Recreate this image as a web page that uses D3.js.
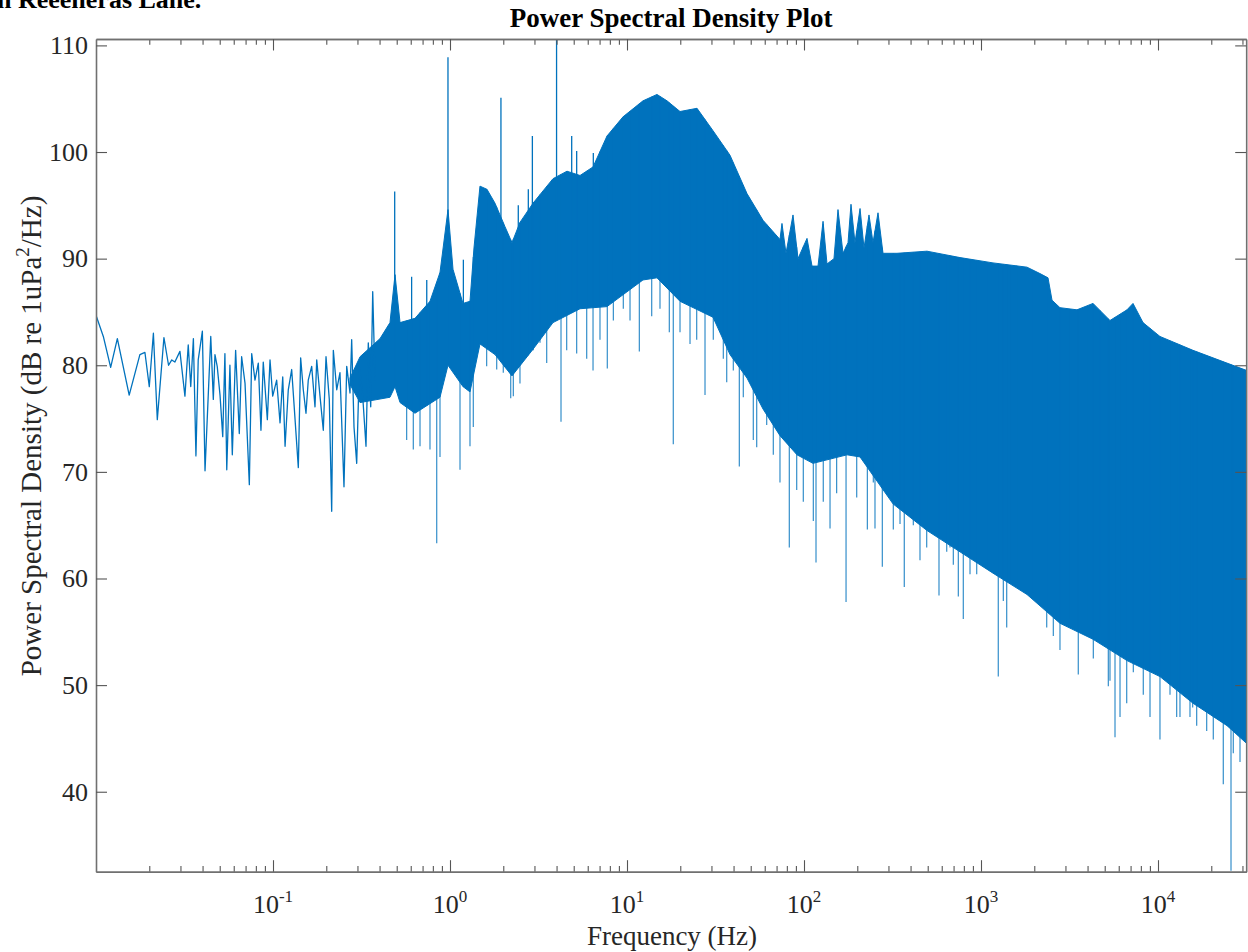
<!DOCTYPE html>
<html>
<head>
<meta charset="utf-8">
<script src="https://cdn.jsdelivr.net/npm/d3@7"></script>
<style>
  body { margin: 0; background: #fff; }
  svg { display: block; font-family: "Liberation Serif", "Times New Roman", serif; }
</style>
</head>
<body>
<svg id="chart"></svg>
<script>
// low-frequency part of the spectrum, drawn as a plain line (Hz, dB)
const lowFreq = [0.0100, 0.0110, 0.0121, 0.0132, 0.0154, 0.0177, 0.0189, 0.0200, 0.0211, 0.0222,
  0.0242, 0.0257, 0.0268, 0.0279, 0.0298, 0.0318, 0.0332, 0.0343, 0.0355, 0.0367,
  0.0378, 0.0399, 0.0413, 0.0445, 0.0460, 0.0470, 0.0484, 0.0502, 0.0520, 0.0535,
  0.0548, 0.0571, 0.0589, 0.0615, 0.0645, 0.0665, 0.0695, 0.0735, 0.0758, 0.0791,
  0.0826, 0.0855, 0.0881, 0.0929, 0.0962, 0.0996, 0.1049, 0.1096, 0.1135, 0.1170,
  0.1220, 0.1275, 0.1390, 0.1433, 0.1483, 0.1536, 0.1582, 0.1654, 0.1727, 0.1766,
  0.1843, 0.1924, 0.1993, 0.2080, 0.2146, 0.2192, 0.2291, 0.2390, 0.2518, 0.2609,
  0.2723, 0.2783, 0.2869, 0.2971, 0.3074, 0.3212, 0.3353, 0.3455, 0.3565, 0.3659,
  0.3770];
const lowPsd = [84.7, 82.7, 79.8, 82.5, 77.2, 81.0, 81.2, 78.0, 83.0, 74.9,
  82.6, 80.0, 80.5, 80.3, 81.3, 77.1, 81.9, 78.0, 82.5, 71.5,
  80.5, 83.2, 70.1, 82.7, 76.8, 81.0, 79.9, 77.2, 73.3, 81.1,
  70.2, 80.0, 71.6, 81.4, 73.6, 80.8, 78.3, 68.8, 81.1, 78.6,
  80.2, 73.9, 80.3, 74.9, 80.5, 77.1, 78.6, 74.6, 78.9, 72.4,
  77.7, 79.6, 70.4, 80.7, 77.7, 75.5, 78.6, 79.9, 76.1, 80.5,
  77.1, 73.9, 80.8, 76.8, 66.3, 81.4, 77.7, 79.3, 68.6, 79.9,
  77.4, 82.4, 74.2, 70.8, 79.9, 77.1, 72.4, 82.1, 76.1, 86.9,
  78.6];

// upper envelope of the dense part
const topFreq = [0.2723, 0.3103, 0.4025, 0.4581, 0.4891, 0.5221, 0.6340, 0.7708,
  0.8780, 0.9743, 1.040, 1.184, 1.297, 1.366, 1.477, 1.618, 1.796, 2.045,
  2.240, 2.485, 2.944, 3.818, 4.581, 5.427, 6.428, 7.709, 9.493, 12.31,
  14.77, 16.83, 19.93, 24.86, 30.62, 38.19, 47.64, 58.67, 73.16, 75.09,
  79.11, 86.67, 92.50, 104.0, 111.0, 120.0, 128.1, 134.9, 147.7, 155.6,
  166.1, 177.3, 184.3, 194.1, 207.3, 218.3, 232.9, 245.4, 261.9, 279.5,
  335.3, 495.4, 761.0, 1169, 1819, 2154, 2391, 2519, 2794, 3486,
  4294, 5355, 6682, 7225, 8228, 10260, 15770, 24540, 31830];
const topPsd = [78.8, 80.8, 82.5, 84.0, 88.5, 84.0, 84.4, 86.0,
  88.7, 94.6, 89.0, 85.8, 86.0, 91.0, 96.8, 96.5, 95.2, 93.0,
  91.5, 93.4, 95.2, 97.5, 98.2, 97.8, 98.6, 101.5, 103.3, 104.8,
  105.4, 104.8, 103.8, 104.1, 102.0, 99.7, 96.1, 93.6, 91.8, 93.3,
  90.5, 94.1, 90.0, 91.9, 89.3, 89.3, 93.5, 89.5, 90.0, 94.6,
  90.5, 91.5, 95.1, 91.5, 94.7, 91.0, 94.1, 91.5, 94.3, 90.5,
  90.5, 90.7, 90.1, 89.6, 89.2, 88.6, 88.2, 86.1, 85.4, 85.2,
  85.8, 84.2, 85.2, 85.8, 84.0, 82.7, 81.4, 80.2, 79.5];

// lower edge of the solid core
const coreFreq = [0.2723, 0.3103, 0.4581, 0.4891, 0.5221, 0.6340, 0.8780, 0.9743, 1.184,
  1.297, 1.477, 1.796, 2.240, 2.944, 3.818, 5.427, 7.709, 12.31, 14.77,
  19.93, 30.62, 38.19, 47.64, 58.67, 73.16, 91.3, 112.4, 175.0, 207.3,
  318.3, 495.4, 761.0, 1169, 1819, 2794, 4294, 6682, 10260, 15770,
  24540, 31830];
const corePsd = [78.2, 76.5, 77.0, 78.0, 76.5, 75.5, 77.0, 80.0, 78.0,
  77.5, 82.0, 81.0, 79.0, 81.5, 84.0, 85.3, 85.5, 88.0, 88.2,
  86.0, 84.5, 81.0, 78.8, 75.9, 73.4, 71.6, 70.8, 71.6, 71.4,
  67.0, 64.5, 62.5, 60.5, 58.5, 55.8, 54.3, 52.3, 50.8, 48.3,
  46.2, 44.5];

// single narrow peaks above the band
const peakFreq = [0.487, 0.607, 0.739, 0.974, 1.19, 1.94, 2.431, 2.770, 2.92, 4.00,
  4.87, 5.196, 6.452];
const peakPsd = [96.3, 88.3, 88.0, 108.9, 89.9, 105.1, 95.0, 96.5, 101.5, 112.0,
  101.5, 100.1, 99.9];

// single narrow dips below the band
const dipFreq = [0.5690, 0.6204, 0.6770, 0.7708, 0.8413, 0.8780, 1.139, 1.297, 1.354, 1.611,
  1.836, 2.000, 2.203, 2.279, 2.485, 2.955, 3.225, 3.518, 4.238, 4.563,
  5.196, 5.920, 6.428, 7.037, 7.739, 8.373, 9.531, 10.40, 11.74, 13.79,
  15.36, 17.34, 18.26, 19.93, 22.70, 24.76, 27.59, 30.73, 35.01, 36.59,
  39.87, 43.11, 45.40, 51.71, 54.05, 61.55, 67.08, 73.16, 82.60, 90.94,
  99.1, 112.9, 116.9, 128.5, 140.3, 152.9, 172.8, 198.5, 228.0, 246.4,
  251.8, 277.0, 319.6, 348.7, 368.6, 414.6, 452.2, 493.4, 579.0, 640.2,
  668.2, 697.6, 744.5, 794.3, 866.8, 945.7, 1077, 1252, 1337, 1397,
  1458, 1591, 1975, 2351, 2562, 2794, 3183, 3545, 3954, 4311,
  4702, 5240, 5355, 5716, 6101, 6656, 7254, 8258, 9013, 10260,
  11690, 12750, 13310, 15160, 15700, 16540, 18840, 20530, 23380, 25850,
  26630, 29060, 30330];
const dipPsd = [73.0, 72.1, 72.4, 72.1, 63.3, 71.4, 70.2, 72.4, 74.2, 79.9,
  79.6, 79.3, 76.9, 77.1, 78.3, 81.4, 82.1, 80.2, 74.7, 81.4,
  81.1, 80.6, 79.5, 82.4, 79.7, 84.2, 85.3, 84.2, 81.3, 84.6,
  85.3, 83.1, 72.6, 83.1, 82.0, 82.4, 77.2, 82.4, 80.6, 78.4,
  79.5, 70.5, 77.0, 73.0, 72.3, 74.4, 71.6, 69.0, 62.9, 68.3,
  67.2, 65.4, 61.5, 67.2, 64.7, 68.0, 57.8, 67.6, 64.6, 69.0,
  64.7, 61.1, 64.6, 65.1, 59.2, 65.0, 61.7, 62.9, 58.4, 62.5,
  62.9, 61.3, 58.3, 56.2, 60.4, 60.4, 60.9, 50.8, 57.9, 55.4,
  59.6, 59.6, 58.7, 55.4, 54.6, 53.3, 56.2, 51.0, 55.4, 52.5,
  55.4, 49.9, 50.4, 45.1, 47.0, 48.3, 51.2, 49.1, 47.0, 44.9,
  49.1, 47.0, 47.0, 47.0, 47.9, 46.2, 45.7, 44.9, 40.7, 32.6,
  43.6, 42.8, 44.9];

const yTicks = [40, 50, 60, 70, 80, 90, 100, 110];
const xDecades = [0.1, 1, 10, 100, 1000, 10000];

const width = 1248, height = 952;
const blue = '#0072bd';
const axisColor = '#707070';
const textColor = '#262626';

const svg = d3.select('#chart')
    .attr('width', width)
    .attr('height', height);

const x = d3.scaleLog()
    .domain([0.01, 31500])
    .range([96, 1246.2]);

const y = d3.scaleLinear()
    .domain([32.5, 110.6])
    .range([871.7, 39]);

const [x0, x1] = x.range();
const [yb, yt] = y.range();

svg.append('defs').append('clipPath')
    .attr('id', 'plotClip')
    .append('rect')
    .attr('x', x0).attr('y', yt)
    .attr('width', x1 - x0).attr('height', yb - yt);

const plot = svg.append('g').attr('clip-path', 'url(#plotClip)');

const line = d3.line().x(d => x(d[0])).y(d => y(d[1]));

// solid core of the spectrum
plot.append('path')
    .attr('d', line(d3.zip(topFreq, topPsd).concat(d3.zip(coreFreq, corePsd).reverse())) + 'Z')
    .attr('fill', blue)
    .attr('stroke', blue)
    .attr('stroke-width', 1);

// low-frequency trace
plot.append('path')
    .attr('d', line(d3.zip(lowFreq, lowPsd)))
    .attr('fill', 'none')
    .attr('stroke', blue)
    .attr('stroke-width', 1.3)
    .attr('stroke-linejoin', 'round');

const coreAt = d3.scaleLog().domain(coreFreq).range(corePsd).clamp(true);
const topAt = d3.scaleLog().domain(topFreq).range(topPsd).clamp(true);

plot.selectAll('.peak')
    .data(d3.zip(peakFreq, peakPsd))
    .join('line')
    .attr('class', 'peak')
    .attr('x1', d => x(d[0])).attr('x2', d => x(d[0]))
    .attr('y1', d => y(d[1]))
    .attr('y2', d => y(coreAt(d[0])))
    .attr('stroke', blue)
    .attr('stroke-width', 1.3);

plot.selectAll('.dip')
    .data(d3.zip(dipFreq, dipPsd))
    .join('line')
    .attr('class', 'dip')
    .attr('x1', d => x(d[0])).attr('x2', d => x(d[0]))
    .attr('y1', d => y(d[1]))
    .attr('y2', d => y(topAt(d[0])))
    .attr('stroke', blue)
    .attr('stroke-opacity', 0.8)
    .attr('stroke-width', 1.2);

// ---- axes ----
const minorTicks = [];
for (let e = -2; e <= 4; e++) {
    for (let m = 2; m <= 9; m++) {
        const v = m * Math.pow(10, e);
        if (v > x.domain()[0] && v < x.domain()[1]) minorTicks.push(v);
    }
}

function styleAxis(g) {
    g.select('.domain').attr('stroke', axisColor).attr('stroke-width', 1.6);
    g.selectAll('.tick line').attr('stroke', '#555').attr('stroke-width', 1.1);
    g.selectAll('.tick text')
        .attr('fill', textColor)
        .attr('font-family', '"Liberation Serif", "Times New Roman", serif')
        .attr('font-size', 26);
}

// bottom: minor then major
svg.append('g')
    .attr('transform', `translate(0,${yb})`)
    .call(d3.axisBottom(x).tickValues(minorTicks).tickSize(-5.7).tickSizeOuter(0).tickFormat(''))
    .call(styleAxis);
svg.append('g')
    .attr('transform', `translate(0,${yb})`)
    .call(d3.axisBottom(x).tickValues(xDecades).tickSize(-11.5).tickSizeOuter(0).tickFormat(''))
    .call(styleAxis);

// top
svg.append('g')
    .attr('transform', `translate(0,${yt})`)
    .call(d3.axisTop(x).tickValues(minorTicks).tickSize(-5.7).tickSizeOuter(0).tickFormat(''))
    .call(styleAxis);
svg.append('g')
    .attr('transform', `translate(0,${yt})`)
    .call(d3.axisTop(x).tickValues(xDecades).tickSize(-11.5).tickSizeOuter(0).tickFormat(''))
    .call(styleAxis);

// left with labels
svg.append('g')
    .attr('transform', `translate(${x0},0)`)
    .call(d3.axisLeft(y).tickValues(yTicks).tickSize(-11).tickSizeOuter(0).tickPadding(8))
    .call(styleAxis);

// right
svg.append('g')
    .attr('transform', `translate(${x1},0)`)
    .call(d3.axisRight(y).tickValues(yTicks).tickSize(-11).tickSizeOuter(0).tickFormat(''))
    .call(styleAxis);

// decade labels 10^n
const decLabels = svg.append('g')
    .attr('font-size', 26)
    .attr('fill', textColor)
    .attr('text-anchor', 'middle');
xDecades.forEach(v => {
    const t = decLabels.append('text')
        .attr('x', x(v))
        .attr('y', 913);
    t.append('tspan').text('10');
    t.append('tspan')
        .attr('font-size', 17)
        .attr('dy', -11)
        .text(Math.round(Math.log10(v)));
});

// ---- texts ----
svg.append('text')
    .attr('x', (x0 + x1) / 2)
    .attr('y', 27)
    .attr('text-anchor', 'middle')
    .attr('font-weight', 'bold')
    .attr('font-size', 27)
    .attr('fill', '#000')
    .text('Power Spectral Density Plot');

// heading of the page above the figure, cut by the picture's top edge
svg.append('text')
    .attr('x', -3)
    .attr('y', 8)
    .attr('font-weight', 'bold')
    .attr('font-size', 26)
    .attr('fill', '#000')
    .text('n Reeeneras Lane.');

svg.append('text')
    .attr('x', 672)
    .attr('y', 945)
    .attr('text-anchor', 'middle')
    .attr('font-size', 27)
    .attr('fill', textColor)
    .text('Frequency (Hz)');

const yLab = svg.append('text')
    .attr('transform', 'translate(41,436) rotate(-90)')
    .attr('text-anchor', 'middle')
    .attr('font-size', 29)
    .attr('fill', textColor);
yLab.append('tspan').text('Power Spectral Density (dB re 1uPa');
yLab.append('tspan').attr('font-size', 19).attr('dy', -12).text('2');
yLab.append('tspan').attr('dy', 12).text('/Hz)');
</script>
</body>
</html>
